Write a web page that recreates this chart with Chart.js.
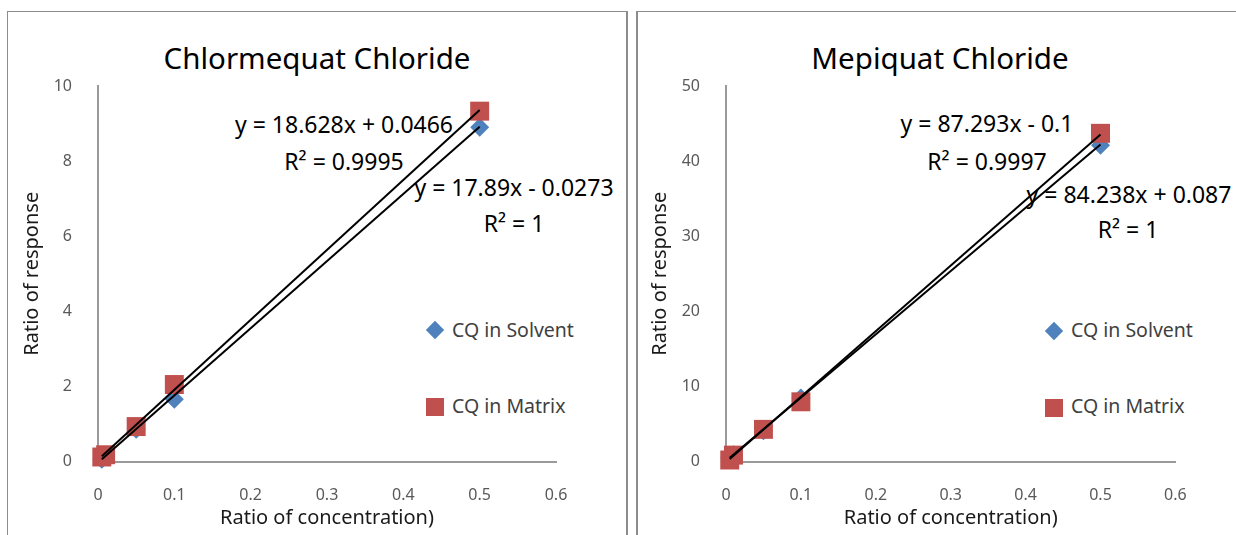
<!DOCTYPE html>
<html>
<head>
<meta charset="utf-8">
<script src="https://cdn.jsdelivr.net/npm/chart.js@4.4.1/dist/chart.umd.min.js"></script>
<style>
  body { margin: 0; background: #fff; width: 1236px; height: 535px; overflow: hidden; position: relative; font-family: "Noto Sans", sans-serif; }
  .panel { position: absolute; top: 11px; height: 600px; border-top: 1px solid #8c8c8c; z-index: 0; }
  #panelL { left: 7px; width: 618px; border-left: 1px solid #8c8c8c; border-right: 2px solid #8c8c8c; }
  #panelR { left: 636px; width: 700px; border-left: 2px solid #8c8c8c; }
  canvas { position: absolute; top: 0; z-index: 2; }
  #cccChart { left: 0; }
  #mcChart { left: 628px; }
  .lbl { position: absolute; transform: translate(-50%, -50%); white-space: nowrap; z-index: 1; color: #000; }
  .title { font-size: 29.5px; }
  .eq { font-size: 23px; }
  .leg { position: absolute; transform: translate(0, -50%); white-space: nowrap; z-index: 1; font-size: 19.5px; color: #404040; }
  .diamond { position: absolute; width: 13px; height: 13px; background: #4F81BD; transform: translate(-50%, -50%) rotate(45deg); z-index: 1; }
  .square { position: absolute; width: 18px; height: 18px; background: #C0504D; transform: translate(-50%, -50%); z-index: 1; }
</style>
</head>
<body>
<div class="panel" id="panelL"></div>
<div class="panel" id="panelR"></div>

<!-- Chlormequat labels -->
<div class="lbl title" style="left:317px;top:57px">Chlormequat Chloride</div>
<div class="lbl eq" style="left:344px;top:124px">y = 18.628x + 0.0466</div>
<div class="lbl eq" style="left:344px;top:161px">R² = 0.9995</div>
<div class="lbl eq" style="left:514px;top:187px">y = 17.89x - 0.0273</div>
<div class="lbl eq" style="left:514px;top:223px">R² = 1</div>
<div class="diamond" style="left:435px;top:330px"></div>
<div class="leg" style="left:452px;top:329px">CQ in Solvent</div>
<div class="square" style="left:435px;top:407px"></div>
<div class="leg" style="left:452px;top:405px">CQ in Matrix</div>

<!-- Mepiquat labels -->
<div class="lbl title" style="left:940px;top:57px">Mepiquat Chloride</div>
<div class="lbl eq" style="left:987px;top:123px">y = 87.293x - 0.1</div>
<div class="lbl eq" style="left:987px;top:161px">R² = 0.9997</div>
<div class="lbl eq" style="left:1129px;top:194px">y = 84.238x + 0.087</div>
<div class="lbl eq" style="left:1128px;top:229px">R² = 1</div>
<div class="diamond" style="left:1054px;top:331px"></div>
<div class="leg" style="left:1071px;top:329px">CQ in Solvent</div>
<div class="square" style="left:1054px;top:408px"></div>
<div class="leg" style="left:1071px;top:405px">CQ in Matrix</div>

<canvas id="cccChart" width="620" height="535"></canvas>
<canvas id="mcChart" width="608" height="535"></canvas>

<script>
// Data
const xConc = [0.005, 0.01, 0.05, 0.1, 0.5];

const cccSolvent = [0.06, 0.15, 0.86, 1.66, 8.9];
const cccMatrix = [0.12, 0.18, 0.93, 2.05, 9.33];
const mcSolvent = [0.5, 0.9, 4.1, 8.45, 42.1];
const mcMatrix = [0.2, 0.85, 4.28, 7.95, 43.7];

// trendline equations printed on the chart: [slope, intercept]
const cccSolventFit = [17.89, -0.0273];
const cccMatrixFit = [18.628, 0.0466];
const mcSolventFit = [84.238, 0.087];
const mcMatrixFit = [87.293, -0.1];

const xTicks = [0, 0.1, 0.2, 0.3, 0.4, 0.5, 0.6];
const xTickLabels = ["0", "0.1", "0.2", "0.3", "0.4", "0.5", "0.6"];
const cccYTicks = [0, 2, 4, 6, 8, 10];
const mcYTicks = [0, 10, 20, 30, 40, 50];

const FONT = "'Noto Sans', sans-serif";

function points(ys) {
  return xConc.map((x, i) => ({ x: x, y: ys[i] }));
}

// trendline from first to last concentration
function fitLine(fit) {
  const x0 = Math.min(...xConc);
  const x1 = Math.max(...xConc);
  return [
    { x: x0, y: fit[0] * x0 + fit[1] },
    { x: x1, y: fit[0] * x1 + fit[1] },
  ];
}

function makeChart(id, solvent, matrix, solventFit, matrixFit, yTicks, padRight) {
  const ctx = document.getElementById(id).getContext("2d");
  return new Chart(ctx, {
    type: "scatter",
    data: {
      datasets: [
        {
          label: "Matrix trend",
          data: fitLine(matrixFit),
          showLine: true,
          borderColor: "#000000",
          borderWidth: 2,
          pointRadius: 0,
          clip: false,
          order: 0,
        },
        {
          label: "Solvent trend",
          data: fitLine(solventFit),
          showLine: true,
          borderColor: "#000000",
          borderWidth: 2,
          pointRadius: 0,
          clip: false,
          order: 1,
        },
        {
          label: "CQ in Matrix",
          data: points(matrix),
          pointStyle: "rect",
          pointRadius: 13.4,
          pointHoverRadius: 13.4,
          pointBackgroundColor: "#C0504D",
          pointBorderWidth: 0,
          clip: false,
          order: 2,
        },
        {
          label: "CQ in Solvent",
          data: points(solvent),
          pointStyle: "rectRot",
          pointRadius: 9.5,
          pointHoverRadius: 9.5,
          pointBackgroundColor: "#4F81BD",
          pointBorderWidth: 0,
          clip: false,
          order: 3,
        },
      ],
    },
    options: {
      responsive: false,
      animation: false,
      events: [],
      layout: {
        padding: { left: 0, top: 86, right: padRight, bottom: 0 },
      },
      plugins: {
        legend: { display: false },
        tooltip: { enabled: false },
      },
      scales: {
        x: {
          type: "linear",
          min: 0,
          max: 0.6,
          afterBuildTicks: (s) => {
            s.ticks = xTicks.map((v) => ({ value: v }));
          },
          afterFit: (s) => {
            s.height = 73.5;
          },
          grid: { display: false, drawTicks: false },
          border: { color: "#9a9a9a", width: 2 },
          ticks: {
            padding: 24,
            color: "#595959",
            font: { family: FONT, size: 16 },
            callback: (v, i) => xTickLabels[i],
          },
          title: {
            display: true,
            text: "Ratio of concentration)",
            color: "#1a1a1a",
            font: { family: FONT, size: 20 },
            padding: { top: 0, bottom: 5 },
          },
        },
        y: {
          type: "linear",
          min: yTicks[0],
          max: yTicks[yTicks.length - 1],
          afterBuildTicks: (s) => {
            s.ticks = yTicks.map((v) => ({ value: v }));
          },
          afterFit: (s) => {
            s.width = 98;
          },
          grid: { display: false, drawTicks: false },
          border: { color: "#9a9a9a", width: 2 },
          ticks: {
            padding: 26,
            color: "#595959",
            font: { family: FONT, size: 16 },
            callback: (v) => String(v),
          },
          title: {
            display: true,
            text: "Ratio of response",
            color: "#1a1a1a",
            font: { family: FONT, size: 20 },
            padding: { top: 20, bottom: 0 },
          },
        },
      },
    },
  });
}

makeChart("cccChart", cccSolvent, cccMatrix, cccSolventFit, cccMatrixFit, cccYTicks, 64);
makeChart("mcChart", mcSolvent, mcMatrix, mcSolventFit, mcMatrixFit, mcYTicks, 60.6);
</script>
</body>
</html>
